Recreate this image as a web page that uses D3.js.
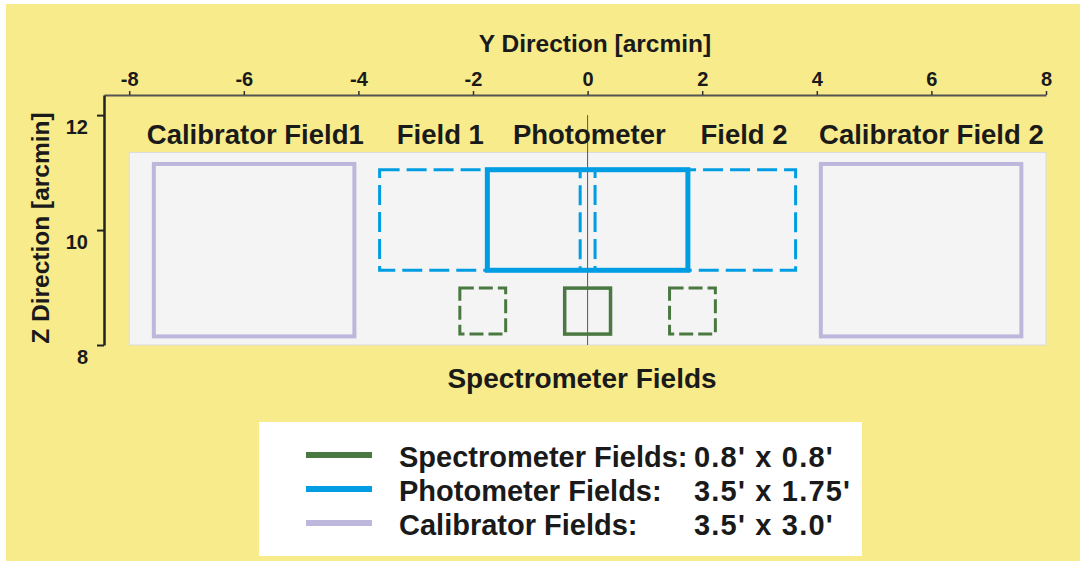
<!DOCTYPE html>
<html>
<head>
<meta charset="utf-8">
<script src="https://cdn.jsdelivr.net/npm/d3@7"></script>
<style>
  html, body { margin: 0; padding: 0; background: #ffffff; }
  svg { display: block; font-family: "Liberation Sans", Arial, Helvetica, sans-serif; font-weight: bold; }
</style>
</head>
<body>
<div id="chart"></div>
<script>
// ---------- data ----------
const xTicks = [-8, -6, -4, -2, 0, 2, 4, 6, 8];
const zTicks = [8, 10, 12];

// Calibrator fields (3.5' x 3.0')
const calibLeft = [-7.57, 4.07];
const calibBottom = [8.15, 8.15];
const calibSize = [3.5, 3.0];

// Photometer (solid) field (3.5' x 1.75')
const photLeft = [-1.75];
const photBottom = [9.3];
const photSize = [3.5, 1.75];

// Photometer Field 1 / Field 2 (dashed)
const fieldLeft = [-3.63, 0.13];
const fieldBottom = [9.3, 9.3];

// Spectrometer fields (0.8' x 0.8')
const specCenter = [-1.83, 0, 1.83];
const specDashed = [true, false, true];
const specBottom = [8.19, 8.19, 8.19];
const specSize = [0.8, 0.8];

// Background panel extent
const panelX = [-8, 8];
const panelZ = [8, 11.35];

// Field labels
const fieldLabels = ["Calibrator Field1", "Field 1", "Photometer", "Field 2", "Calibrator Field 2"];
const fieldLabelX = [-5.8, -2.57, 0.03, 2.73, 6.0];

// Legend
const legendNames = ["Spectrometer Fields:", "Photometer Fields:", "Calibrator Fields:"];
const legendSizes = ["0.8' x 0.8'", "3.5' x 1.75'", "3.5' x 3.0'"];

// ---------- styles ----------
const C = {
  bg: "#f7eb8b",
  panel: "#f4f4f4",
  panelStroke: "#dcdcdc",
  blue: "#009de3",
  green: "#4a7841",
  lav: "#bdb7dc",
  text: "#1a1a1a"
};
const legendColors = [C.green, C.blue, C.lav];

const W = 1080, H = 561;
const svg = d3.select("#chart").append("svg").attr("width", W).attr("height", H);

svg.append("rect").attr("x", 6).attr("y", 4).attr("width", W - 6).attr("height", H - 4).attr("fill", C.bg);

// scales (equal aspect)
const x = d3.scaleLinear().domain([-8.44, 8]).range([104, 1046]);
const z = d3.scaleLinear().domain([8, 12.35]).range([345, 95]);

// panel
svg.append("rect")
  .attr("x", x(panelX[0])).attr("y", z(panelZ[1]))
  .attr("width", x(panelX[1]) - x(panelX[0]))
  .attr("height", z(panelZ[0]) - z(panelZ[1]))
  .attr("fill", C.panel).attr("stroke", C.panelStroke).attr("stroke-width", 1);

// zero line
svg.append("line")
  .attr("x1", x(0)).attr("x2", x(0))
  .attr("y1", z(12)).attr("y2", z(8))
  .attr("stroke", "#555").attr("stroke-width", 1);

// calibrator fields
svg.selectAll("rect.calib").data(calibLeft).join("rect")
  .attr("class", "calib")
  .attr("x", d => x(d))
  .attr("y", (d, i) => z(calibBottom[i] + calibSize[1]))
  .attr("width", d => x(d + calibSize[0]) - x(d))
  .attr("height", (d, i) => z(calibBottom[i]) - z(calibBottom[i] + calibSize[1]))
  .attr("fill", "none").attr("stroke", C.lav).attr("stroke-width", 4);

// dashed photometer fields
svg.selectAll("rect.field").data(fieldLeft).join("rect")
  .attr("class", "field")
  .attr("x", d => x(d))
  .attr("y", (d, i) => z(fieldBottom[i] + photSize[1]))
  .attr("width", d => x(d + photSize[0]) - x(d))
  .attr("height", (d, i) => z(fieldBottom[i]) - z(fieldBottom[i] + photSize[1]))
  .attr("fill", "none").attr("stroke", C.blue).attr("stroke-width", 3)
  .attr("stroke-dasharray", "20,7");

// solid photometer
svg.selectAll("rect.phot").data(photLeft).join("rect")
  .attr("class", "phot")
  .attr("x", d => x(d))
  .attr("y", (d, i) => z(photBottom[i] + photSize[1]))
  .attr("width", d => x(d + photSize[0]) - x(d))
  .attr("height", (d, i) => z(photBottom[i]) - z(photBottom[i] + photSize[1]))
  .attr("fill", "none").attr("stroke", C.blue).attr("stroke-width", 5);

// spectrometer fields
svg.selectAll("rect.spec").data(specCenter).join("rect")
  .attr("class", "spec")
  .attr("x", d => x(d - specSize[0] / 2))
  .attr("y", (d, i) => z(specBottom[i] + specSize[1]))
  .attr("width", d => x(d + specSize[0] / 2) - x(d - specSize[0] / 2))
  .attr("height", (d, i) => z(specBottom[i]) - z(specBottom[i] + specSize[1]))
  .attr("fill", "none").attr("stroke", C.green)
  .attr("stroke-width", (d, i) => specDashed[i] ? 3 : 3.5)
  .attr("stroke-dasharray", (d, i) => specDashed[i] ? "14,5" : null);

const fmt = d => d < 0 ? "-" + Math.abs(d) : String(d);

// top axis
const gx = svg.append("g").attr("transform", `translate(0,${z(12.35)})`)
  .call(d3.axisTop(x).tickValues(xTicks).tickSize(4).tickPadding(5).tickSizeOuter(0).tickFormat(fmt));
gx.select(".domain").attr("stroke", "#555").attr("stroke-width", 2);
gx.selectAll(".tick line").attr("stroke", "#333").attr("stroke-width", 1.5);
gx.selectAll(".tick text").attr("fill", C.text).attr("font-size", 20).attr("font-family", "Liberation Sans, Arial, sans-serif").attr("font-weight", "bold");

// left axis
const gz = svg.append("g").attr("transform", `translate(${x(-8.44)},0)`)
  .call(d3.axisLeft(z).tickValues(zTicks).tickSize(7).tickPadding(9).tickSizeOuter(0).tickFormat(fmt));
gz.select(".domain").attr("stroke", "#222").attr("stroke-width", 2.5);
gz.selectAll(".tick line").attr("stroke", "#222").attr("stroke-width", 2);
gz.selectAll(".tick text").attr("fill", C.text).attr("font-size", 20).attr("font-family", "Liberation Sans, Arial, sans-serif").attr("font-weight", "bold")
  .attr("dy", "0.9em");

// axis titles
svg.append("text").attr("x", 595).attr("y", 52).attr("text-anchor", "middle")
  .attr("font-size", 24.5).attr("fill", C.text).text("Y Direction [arcmin]");
svg.append("text").attr("transform", "translate(49,228) rotate(-90)").attr("text-anchor", "middle")
  .attr("font-size", 24.5).attr("fill", C.text).text("Z Direction [arcmin]");

// field labels
svg.selectAll("text.flabel").data(fieldLabels).join("text")
  .attr("class", "flabel")
  .attr("x", (d, i) => x(fieldLabelX[i]))
  .attr("y", z(panelZ[1]) - 8)
  .attr("text-anchor", "middle").attr("font-size", 27.5).attr("fill", C.text)
  .text(d => d);

svg.append("text").attr("x", 582).attr("y", 388).attr("text-anchor", "middle")
  .attr("font-size", 28).attr("fill", C.text).text("Spectrometer Fields");

// legend
const lg = svg.append("g");
lg.append("rect").attr("x", 259).attr("y", 422).attr("width", 603).attr("height", 134).attr("fill", "#ffffff");
const rowY = [455, 489, 523];
lg.selectAll("line").data(legendNames).join("line")
  .attr("x1", 306).attr("x2", 372)
  .attr("y1", (d, i) => rowY[i]).attr("y2", (d, i) => rowY[i])
  .attr("stroke", (d, i) => legendColors[i]).attr("stroke-width", 6);
lg.selectAll("text.lname").data(legendNames).join("text")
  .attr("class", "lname").attr("x", 399).attr("y", (d, i) => rowY[i] + 12)
  .attr("font-size", 29).attr("fill", C.text).text(d => d);
lg.selectAll("text.lsize").data(legendSizes).join("text")
  .attr("class", "lsize").attr("x", 694).attr("y", (d, i) => rowY[i] + 12)
  .attr("font-size", 29).attr("letter-spacing", 1.2).attr("fill", C.text).text(d => d);
</script>
</body>
</html>
